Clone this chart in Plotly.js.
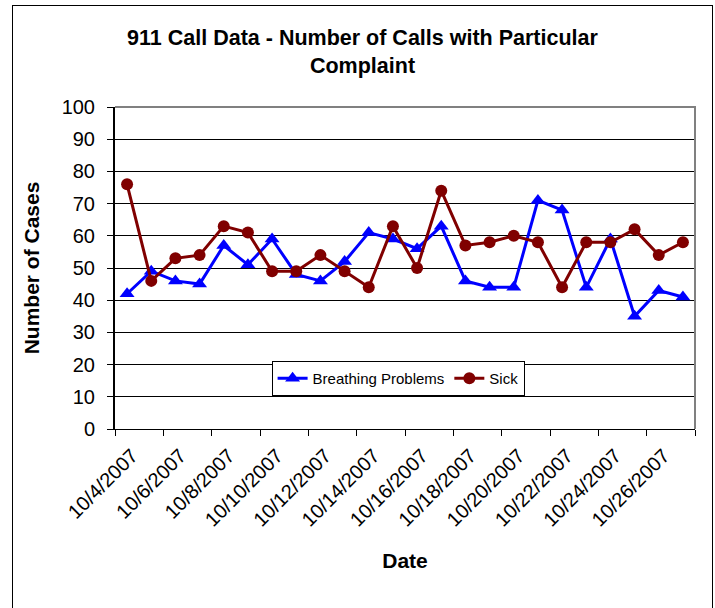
<!DOCTYPE html>
<html>
<head>
<meta charset="utf-8">
<script src="https://cdn.plot.ly/plotly-3.0.1.min.js"></script>
<style>
  html, body { margin: 0; padding: 0; background: #ffffff; overflow: hidden; }
  #frame { position: absolute; left: 12px; top: 5px; width: 699px; height: 640px; border: 1px solid #000000; }
  #chart { width: 699px; height: 640px; }
</style>
</head>
<body>
<div id="frame"><div id="chart"></div></div>
<script>
const dates = ["10/4/2007","10/5/2007","10/6/2007","10/7/2007","10/8/2007","10/9/2007","10/10/2007","10/11/2007",
  "10/12/2007","10/13/2007","10/14/2007","10/15/2007","10/16/2007","10/17/2007","10/18/2007","10/19/2007",
  "10/20/2007","10/21/2007","10/22/2007","10/23/2007","10/24/2007","10/25/2007","10/26/2007","10/27/2007"];
const breathing = [42,49,46,45,57,51,59,48,46,52,61,59,56,63,46,44,44,71,68,44,59,35,43,41];
const sick = [76,46,53,54,63,61,49,49,54,49,44,63,50,74,57,58,60,58,44,58,58,62,54,58];
const yTicks = [0,10,20,30,40,50,60,70,80,90,100];

const FONT = "Liberation Sans, Arial, sans-serif";

const traces = [
  { x: dates, y: breathing, name: "Breathing Problems", type: "scatter", mode: "lines+markers",
    line: { color: "#0000FF", width: 3 },
    marker: { symbol: "triangle-up", size: 13, color: "#0000FF" } },
  { x: dates, y: sick, name: "Sick", type: "scatter", mode: "lines+markers",
    line: { color: "#800000", width: 3 },
    marker: { symbol: "circle", size: 12, color: "#800000" } }
];

const layout = {
  width: 699, height: 640,
  paper_bgcolor: "#ffffff", plot_bgcolor: "#ffffff",
  font: { family: FONT, color: "#000000", size: 20 },
  margin: { l: 102, r: 17, t: 101, b: 217, pad: 0 },
  title: {
    text: "911 Call Data - Number of Calls with Particular<br>Complaint",
    font: { family: FONT, size: 21.5, color: "#000000", weight: "bold" },
    x: 0.5, xref: "container", xanchor: "center",
    y: 0.939, yref: "container", yanchor: "top"
  },
  xaxis: {
    type: "category",
    range: [-0.5, dates.length - 0.5],
    tickmode: "linear", tick0: 0, dtick: 2,
    tickson: "boundaries",
    ticks: "outside", ticklen: 6, tickcolor: "#000000", tickwidth: 1,
    tickangle: -45,
    ticklabelstandoff: 6,
    ticklabelshift: 5,
    tickfont: { family: FONT, size: 20, color: "#000000" },
    showline: true, linecolor: "#000000", linewidth: 1,
    showgrid: false, zeroline: false,
    title: { text: "Date", font: { family: FONT, size: 21, weight: "bold", color: "#000000" }, standoff: 23 },
    automargin: false
  },
  yaxis: {
    range: [0, 100],
    tickvals: yTicks,
    ticks: "outside", ticklen: 6, tickcolor: "#000000", tickwidth: 1,
    ticklabelstandoff: 8,
    tickfont: { family: FONT, size: 20, color: "#000000" },
    showline: true, linecolor: "#000000", linewidth: 2,
    showgrid: true, gridcolor: "#000000", gridwidth: 1,
    zeroline: false,
    title: { text: "Number of Cases", font: { family: FONT, size: 21, weight: "bold", color: "#000000" }, standoff: 16 },
    automargin: false
  },
  showlegend: true,
  legend: {
    orientation: "h",
    x: 0.27, xanchor: "left", xref: "paper",
    y: 0.211, yanchor: "top", yref: "paper",
    bgcolor: "#ffffff", bordercolor: "#000000", borderwidth: 1,
    font: { family: FONT, size: 15, color: "#000000" },
    itemwidth: 30
  },
  shapes: [
    { type: "path", xref: "paper", yref: "paper", path: "M 0,1 L 1,1 L 1,0",
      line: { color: "#808080", width: 2 }, layer: "above" }
  ]
};

Plotly.newPlot("chart", traces, layout, { displayModeBar: false, staticPlot: true });
</script>
</body>
</html>
